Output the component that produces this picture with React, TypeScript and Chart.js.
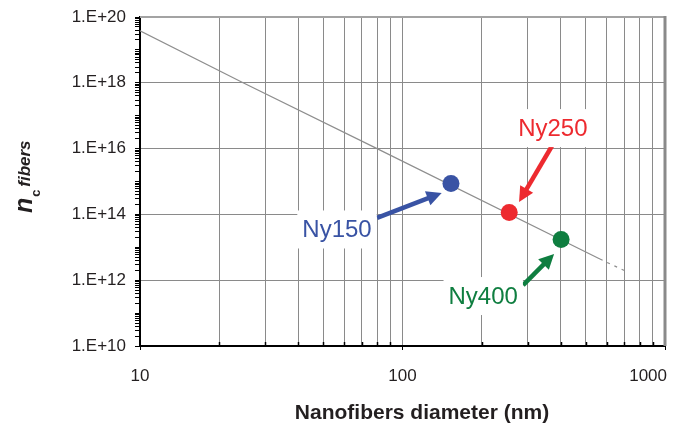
import React, { useEffect, useRef } from "react";
import { Chart, registerables } from "chart.js";

Chart.register(...registerables);

// Critical concentration curve (nanofibers diameter in nm -> n_c)
const curveDiameter = [10, 24.7, 80, 565, 716];
const curveConc = [3.8e19, 1e18, 1e16, 4.4e12, 1.8e12];

// Measured samples
const sampleNames = ["Ny150", "Ny250", "Ny400"];
const sampleDiameter = [153, 255, 402];
const sampleConc = [8.7e14, 1.15e14, 1.74e13];
const sampleColors = ["#3953a4", "#ed2a2f", "#0f7e40"];

// Callout placement in data units: label centre, arrow tail, arrow tip
const labelX = [56.3, 374, 203];
const labelY = [3.48e13, 4.2e16, 3.3e11];
const arrowFromX = [80, 371, 288];
const arrowFromY = [7.8e13, 1.2e16, 7.1e11];
const arrowToX = [141, 278, 378];
const arrowToY = [4.5e14, 2.4e14, 6.3e12];

// Axis ticks
const xTickValues = [10, 20, 30, 40, 50, 60, 70, 80, 90, 100, 200, 300, 400, 500, 600, 700, 800, 900, 1000];
const xTickLabels = ["10", "100", "1000"];
const yExponents = [10, 11, 12, 13, 14, 15, 16, 17, 18, 19, 20];
const yLabelExponents = [10, 12, 14, 16, 18, 20];

const FONT = "'Liberation Sans', Arial, Helvetica, sans-serif";
const TEXT = "#231f20";

function yTickValues(): number[] {
  const out: number[] = [];
  yExponents.forEach((e, i) => {
    const base = Math.pow(10, e);
    if (i === yExponents.length - 1) {
      out.push(base);
    } else {
      for (let m = 1; m <= 9; m++) out.push(m * base);
    }
  });
  return out;
}

function expOf(v: number): number | null {
  const e = Math.log10(v);
  const r = Math.round(e);
  return Math.abs(e - r) < 1e-9 ? r : null;
}

const calloutPlugin = {
  id: "callouts",
  afterDatasetsDraw(chart: any) {
    const { ctx, scales } = chart;
    const xs = scales.x;
    const ys = scales.y;
    ctx.save();
    sampleNames.forEach((name, i) => {
      const color = sampleColors[i];
      const x0 = xs.getPixelForValue(arrowFromX[i]);
      const y0 = ys.getPixelForValue(arrowFromY[i]);
      const x1 = xs.getPixelForValue(arrowToX[i]);
      const y1 = ys.getPixelForValue(arrowToY[i]);
      const ang = Math.atan2(y1 - y0, x1 - x0);
      const headLen = 15;
      const headHalf = 7.5;
      const bx = x1 - headLen * Math.cos(ang);
      const by = y1 - headLen * Math.sin(ang);
      ctx.strokeStyle = color;
      ctx.fillStyle = color;
      ctx.lineWidth = 4.5;
      ctx.lineCap = "butt";
      ctx.beginPath();
      ctx.moveTo(x0, y0);
      ctx.lineTo(bx + 2 * Math.cos(ang), by + 2 * Math.sin(ang));
      ctx.stroke();
      ctx.beginPath();
      ctx.moveTo(x1, y1);
      ctx.lineTo(bx + headHalf * Math.sin(ang), by - headHalf * Math.cos(ang));
      ctx.lineTo(bx - headHalf * Math.sin(ang), by + headHalf * Math.cos(ang));
      ctx.closePath();
      ctx.fill();
    });
    sampleNames.forEach((name, i) => {
      const cx = xs.getPixelForValue(labelX[i]);
      const cy = ys.getPixelForValue(labelY[i]);
      ctx.font = `24px ${FONT}`;
      const w = ctx.measureText(name).width;
      ctx.fillStyle = "#ffffff";
      ctx.fillRect(cx - w / 2 - 5, cy - 19, w + 10, 38);
      ctx.fillStyle = sampleColors[i];
      ctx.textAlign = "center";
      ctx.textBaseline = "middle";
      ctx.fillText(name, cx, cy + 1);
    });
    ctx.restore();
  },
  afterDraw(chart: any) {
    const { ctx, chartArea, scales } = chart;
    ctx.save();
    // top and right frame
    ctx.strokeStyle = "#a3a3a3";
    ctx.lineWidth = 2;
    ctx.beginPath();
    ctx.moveTo(chartArea.left, chartArea.top);
    ctx.lineTo(chartArea.right, chartArea.top);
    ctx.stroke();
    ctx.strokeStyle = "#8a8a8a";
    ctx.lineWidth = 3;
    ctx.beginPath();
    ctx.moveTo(chartArea.right, chartArea.top - 1);
    ctx.lineTo(chartArea.right, chartArea.bottom);
    ctx.stroke();

    // minor x ticks point inward from the bottom axis
    ctx.strokeStyle = "#000000";
    ctx.lineWidth = 1.5;
    xTickValues.forEach((v) => {
      if (xTickLabels.includes(String(v))) return;
      const px = Math.round(scales.x.getPixelForValue(v)) + 0.5;
      ctx.beginPath();
      ctx.moveTo(px, chartArea.bottom);
      ctx.lineTo(px, chartArea.bottom - 4);
      ctx.stroke();
    });

    // x tick labels, the last one kept inside the plot's right edge
    ctx.fillStyle = TEXT;
    ctx.font = `17px ${FONT}`;
    ctx.textAlign = "center";
    ctx.textBaseline = "middle";
    xTickLabels.forEach((lbl) => {
      const w = ctx.measureText(lbl).width;
      let px = scales.x.getPixelForValue(Number(lbl));
      px = Math.min(px, chartArea.right + 2 - w / 2);
      ctx.fillText(lbl, px, chartArea.bottom + 30);
    });

    // x axis title
    ctx.font = `bold 21px ${FONT}`;
    ctx.textBaseline = "alphabetic";
    ctx.fillText("Nanofibers diameter (nm)", 422, 419);

    // y axis title: n_c^fibers, rotated
    ctx.translate(32, 213);
    ctx.rotate(-Math.PI / 2);
    ctx.textAlign = "left";
    ctx.font = `italic bold 25px ${FONT}`;
    ctx.fillText("n", 0, 0);
    const nw = ctx.measureText("n").width;
    ctx.font = `bold 13px ${FONT}`;
    ctx.fillText("c", nw + 1, 8);
    ctx.font = `italic bold 17px ${FONT}`;
    ctx.fillText("fibers", nw + 11, -2);
    ctx.restore();
  },
};

export default function App() {
  const canvasRef = useRef<HTMLCanvasElement | null>(null);

  useEffect(() => {
    const canvas = canvasRef.current;
    if (!canvas) return;
    const yTicks = yTickValues();

    const chart = new Chart(canvas, {
      type: "scatter",
      data: {
        datasets: [
          {
            label: "samples",
            data: sampleDiameter.map((d, i) => ({ x: d, y: sampleConc[i] })),
            backgroundColor: sampleColors,
            borderWidth: 0,
            pointRadius: 8.5,
            showLine: false,
          },
          {
            label: "curve",
            data: curveDiameter.map((d, i) => ({ x: d, y: curveConc[i] })),
            showLine: true,
            borderColor: "#8e8e8e",
            borderWidth: 1.2,
            pointRadius: 0,
            segment: {
              borderDash: (c: any) => (c.p0DataIndex >= 3 ? [3, 5] : undefined),
            },
          },
        ],
      },
      options: {
        responsive: false,
        animation: false,
        layout: { padding: { left: 0, right: 19, top: 17, bottom: 0 } },
        plugins: {
          legend: { display: false },
          tooltip: { enabled: false },
        },
        scales: {
          x: {
            type: "logarithmic",
            min: 10,
            max: 1000,
            afterBuildTicks: (scale: any) => {
              scale.ticks = xTickValues.map((v) => ({ value: v }));
            },
            afterFit: (scale: any) => {
              scale.height = 77;
              scale.paddingLeft = 0;
              scale.paddingRight = 0;
            },
            border: { display: true, color: "#000000", width: 2 },
            grid: {
              color: "#8a8a8a",
              lineWidth: 1,
              tickLength: 4,
              tickColor: (c: any) =>
                xTickLabels.includes(String(c.tick?.value)) ? "#000000" : "rgba(0,0,0,0)",
            },
            ticks: {
              autoSkip: false,
              maxRotation: 0,
              display: false,
            },
          },
          y: {
            type: "logarithmic",
            min: 1e10,
            max: 1e20,
            afterBuildTicks: (scale: any) => {
              scale.ticks = yTicks.map((v) => ({ value: v }));
            },
            afterFit: (scale: any) => {
              scale.width = 140;
              scale.paddingTop = 0;
              scale.paddingBottom = 0;
            },
            border: { display: true, color: "#000000", width: 2 },
            grid: {
              color: (c: any) => {
                const e = expOf(c.tick?.value);
                return e !== null && yLabelExponents.includes(e) ? "#8a8a8a" : "rgba(0,0,0,0)";
              },
              lineWidth: 1,
              tickLength: 5,
              tickColor: "#000000",
            },
            ticks: {
              autoSkip: false,
              padding: 9,
              color: TEXT,
              font: { family: FONT, size: 17 },
              callback: (v: any) => {
                const e = expOf(Number(v));
                return e !== null && yLabelExponents.includes(e) ? `1.E+${e}` : "";
              },
            },
          },
        },
      },
      plugins: [calloutPlugin],
    });

    return () => chart.destroy();
  }, []);

  return (
    <div style={{ position: "absolute", left: 0, top: 0, width: 684, height: 423, background: "#ffffff" }}>
      <canvas ref={canvasRef} width={684} height={423} style={{ display: "block" }} />
    </div>
  );
}
